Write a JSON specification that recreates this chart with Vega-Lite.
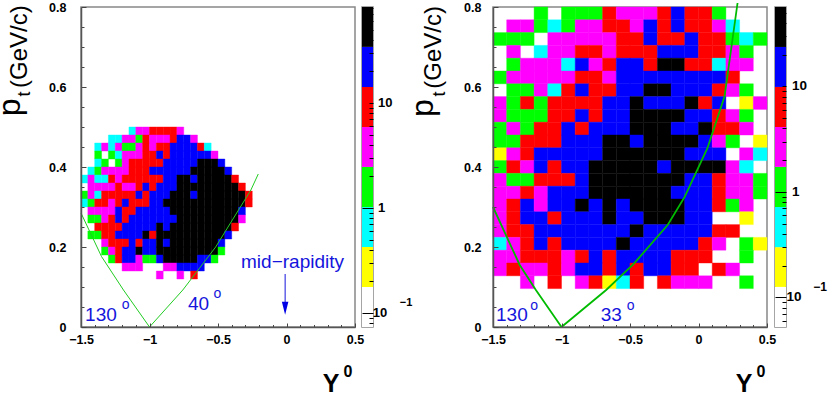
{"$schema":"https://vega.github.io/schema/vega-lite/v6.json","autosize":{"type":"none"},"padding":{"left":81,"top":7,"right":749,"bottom":386},"background":"white","bounds":"flush","spacing":412,"resolve":{"scale":{"color":"independent","stroke":"independent"}},"config":{"text":{"font":"Liberation Sans"},"axis":{"labelFont":"Liberation Sans","labelFontWeight":"bold"}},
"datasets":{"cells1":[
{"x":-1.15,"y":0.48,"n":0.65},{"x":-1.1,"y":0.48,"n":3.8},{"x":-1.05,"y":0.48,"n":3.8},{"x":-1,"y":0.48,"n":9},{"x":-0.95,"y":0.48,"n":9},{"x":-0.9,"y":0.48,"n":9},{"x":-0.85,"y":0.48,"n":9},{"x":-0.8,"y":0.48,"n":3.8},
{"x":-1.3,"y":0.46,"n":0.65},{"x":-1.25,"y":0.46,"n":0.65},{"x":-1.2,"y":0.46,"n":3.8},{"x":-1.15,"y":0.46,"n":3.8},{"x":-1.1,"y":0.46,"n":1.6},{"x":-1.05,"y":0.46,"n":9},{"x":-1,"y":0.46,"n":3.8},{"x":-0.95,"y":0.46,"n":3.8},{"x":-0.9,"y":0.46,"n":3.8},{"x":-0.85,"y":0.46,"n":9},{"x":-0.8,"y":0.46,"n":22},{"x":-0.75,"y":0.46,"n":22},{"x":-0.7,"y":0.46,"n":3.8},
{"x":-1.4,"y":0.44,"n":0.65},{"x":-1.35,"y":0.44,"n":3.8},{"x":-1.3,"y":0.44,"n":0.65},{"x":-1.25,"y":0.44,"n":3.8},{"x":-1.2,"y":0.44,"n":1.6},{"x":-1.15,"y":0.44,"n":1.6},{"x":-1.1,"y":0.44,"n":3.8},{"x":-1.05,"y":0.44,"n":9},{"x":-1,"y":0.44,"n":3.8},{"x":-0.95,"y":0.44,"n":9},{"x":-0.9,"y":0.44,"n":9},{"x":-0.85,"y":0.44,"n":22},{"x":-0.8,"y":0.44,"n":22},{"x":-0.75,"y":0.44,"n":22},{"x":-0.7,"y":0.44,"n":22},{"x":-0.65,"y":0.44,"n":9},{"x":-0.6,"y":0.44,"n":0.65},
{"x":-1.4,"y":0.42,"n":1.6},{"x":-1.3,"y":0.42,"n":1.6},{"x":-1.25,"y":0.42,"n":0.65},{"x":-1.2,"y":0.42,"n":3.8},{"x":-1.15,"y":0.42,"n":3.8},{"x":-1.1,"y":0.42,"n":3.8},{"x":-1.05,"y":0.42,"n":9},{"x":-1,"y":0.42,"n":9},{"x":-0.95,"y":0.42,"n":22},{"x":-0.9,"y":0.42,"n":9},{"x":-0.85,"y":0.42,"n":22},{"x":-0.8,"y":0.42,"n":22},{"x":-0.75,"y":0.42,"n":22},{"x":-0.7,"y":0.42,"n":22},{"x":-0.65,"y":0.42,"n":22},{"x":-0.6,"y":0.42,"n":22},{"x":-0.55,"y":0.42,"n":3.8},
{"x":-1.4,"y":0.4,"n":0.65},{"x":-1.35,"y":0.4,"n":1.6},{"x":-1.25,"y":0.4,"n":1.6},{"x":-1.2,"y":0.4,"n":3.8},{"x":-1.15,"y":0.4,"n":9},{"x":-1.1,"y":0.4,"n":9},{"x":-1.05,"y":0.4,"n":9},{"x":-1,"y":0.4,"n":9},{"x":-0.95,"y":0.4,"n":9},{"x":-0.9,"y":0.4,"n":22},{"x":-0.85,"y":0.4,"n":22},{"x":-0.8,"y":0.4,"n":22},{"x":-0.75,"y":0.4,"n":22},{"x":-0.7,"y":0.4,"n":22},{"x":-0.65,"y":0.4,"n":50},{"x":-0.6,"y":0.4,"n":50},{"x":-0.55,"y":0.4,"n":50},{"x":-0.5,"y":0.4,"n":22},
{"x":-1.45,"y":0.38,"n":0.65},{"x":-1.4,"y":0.38,"n":1.6},{"x":-1.35,"y":0.38,"n":3.8},{"x":-1.3,"y":0.38,"n":3.8},{"x":-1.25,"y":0.38,"n":3.8},{"x":-1.2,"y":0.38,"n":3.8},{"x":-1.15,"y":0.38,"n":9},{"x":-1.1,"y":0.38,"n":9},{"x":-1.05,"y":0.38,"n":9},{"x":-1,"y":0.38,"n":22},{"x":-0.95,"y":0.38,"n":22},{"x":-0.9,"y":0.38,"n":22},{"x":-0.85,"y":0.38,"n":22},{"x":-0.8,"y":0.38,"n":22},{"x":-0.75,"y":0.38,"n":22},{"x":-0.7,"y":0.38,"n":50},{"x":-0.65,"y":0.38,"n":50},{"x":-0.6,"y":0.38,"n":50},{"x":-0.55,"y":0.38,"n":50},{"x":-0.5,"y":0.38,"n":50},{"x":-0.45,"y":0.38,"n":22},
{"x":-1.5,"y":0.36,"n":0.65},{"x":-1.45,"y":0.36,"n":3.8},{"x":-1.4,"y":0.36,"n":0.65},{"x":-1.35,"y":0.36,"n":0.65},{"x":-1.3,"y":0.36,"n":9},{"x":-1.25,"y":0.36,"n":3.8},{"x":-1.2,"y":0.36,"n":9},{"x":-1.15,"y":0.36,"n":9},{"x":-1.1,"y":0.36,"n":9},{"x":-1.05,"y":0.36,"n":9},{"x":-1,"y":0.36,"n":9},{"x":-0.95,"y":0.36,"n":9},{"x":-0.9,"y":0.36,"n":22},{"x":-0.85,"y":0.36,"n":22},{"x":-0.8,"y":0.36,"n":50},{"x":-0.75,"y":0.36,"n":50},{"x":-0.7,"y":0.36,"n":22},{"x":-0.65,"y":0.36,"n":50},{"x":-0.6,"y":0.36,"n":50},{"x":-0.55,"y":0.36,"n":50},{"x":-0.5,"y":0.36,"n":50},{"x":-0.45,"y":0.36,"n":50},{"x":-0.4,"y":0.36,"n":9},
{"x":-1.45,"y":0.34,"n":3.8},{"x":-1.4,"y":0.34,"n":3.8},{"x":-1.35,"y":0.34,"n":3.8},{"x":-1.3,"y":0.34,"n":3.8},{"x":-1.25,"y":0.34,"n":9},{"x":-1.2,"y":0.34,"n":3.8},{"x":-1.15,"y":0.34,"n":3.8},{"x":-1.1,"y":0.34,"n":9},{"x":-1.05,"y":0.34,"n":22},{"x":-1,"y":0.34,"n":9},{"x":-0.95,"y":0.34,"n":22},{"x":-0.9,"y":0.34,"n":22},{"x":-0.85,"y":0.34,"n":22},{"x":-0.8,"y":0.34,"n":50},{"x":-0.75,"y":0.34,"n":50},{"x":-0.7,"y":0.34,"n":50},{"x":-0.65,"y":0.34,"n":50},{"x":-0.6,"y":0.34,"n":50},{"x":-0.55,"y":0.34,"n":50},{"x":-0.5,"y":0.34,"n":50},{"x":-0.45,"y":0.34,"n":50},{"x":-0.4,"y":0.34,"n":50},{"x":-0.35,"y":0.34,"n":9},
{"x":-1.5,"y":0.32,"n":1.6},{"x":-1.45,"y":0.32,"n":3.8},{"x":-1.4,"y":0.32,"n":0.65},{"x":-1.35,"y":0.32,"n":9},{"x":-1.3,"y":0.32,"n":9},{"x":-1.25,"y":0.32,"n":9},{"x":-1.2,"y":0.32,"n":9},{"x":-1.15,"y":0.32,"n":9},{"x":-1.1,"y":0.32,"n":22},{"x":-1.05,"y":0.32,"n":9},{"x":-1,"y":0.32,"n":22},{"x":-0.95,"y":0.32,"n":22},{"x":-0.9,"y":0.32,"n":22},{"x":-0.85,"y":0.32,"n":50},{"x":-0.8,"y":0.32,"n":50},{"x":-0.75,"y":0.32,"n":50},{"x":-0.7,"y":0.32,"n":22},{"x":-0.65,"y":0.32,"n":50},{"x":-0.6,"y":0.32,"n":50},{"x":-0.55,"y":0.32,"n":50},{"x":-0.5,"y":0.32,"n":50},{"x":-0.45,"y":0.32,"n":50},{"x":-0.4,"y":0.32,"n":50},{"x":-0.35,"y":0.32,"n":50},{"x":-0.3,"y":0.32,"n":9},
{"x":-1.5,"y":0.3,"n":0.65},{"x":-1.45,"y":0.3,"n":1.6},{"x":-1.4,"y":0.3,"n":9},{"x":-1.35,"y":0.3,"n":9},{"x":-1.3,"y":0.3,"n":3.8},{"x":-1.25,"y":0.3,"n":9},{"x":-1.2,"y":0.3,"n":22},{"x":-1.15,"y":0.3,"n":9},{"x":-1.1,"y":0.3,"n":9},{"x":-1.05,"y":0.3,"n":9},{"x":-1,"y":0.3,"n":22},{"x":-0.95,"y":0.3,"n":22},{"x":-0.9,"y":0.3,"n":50},{"x":-0.85,"y":0.3,"n":50},{"x":-0.8,"y":0.3,"n":50},{"x":-0.75,"y":0.3,"n":50},{"x":-0.7,"y":0.3,"n":50},{"x":-0.65,"y":0.3,"n":50},{"x":-0.6,"y":0.3,"n":50},{"x":-0.55,"y":0.3,"n":50},{"x":-0.5,"y":0.3,"n":50},{"x":-0.45,"y":0.3,"n":50},{"x":-0.4,"y":0.3,"n":50},{"x":-0.35,"y":0.3,"n":50},{"x":-0.3,"y":0.3,"n":9},
{"x":-1.45,"y":0.28,"n":3.8},{"x":-1.4,"y":0.28,"n":3.8},{"x":-1.35,"y":0.28,"n":3.8},{"x":-1.3,"y":0.28,"n":3.8},{"x":-1.25,"y":0.28,"n":22},{"x":-1.2,"y":0.28,"n":9},{"x":-1.15,"y":0.28,"n":9},{"x":-1.1,"y":0.28,"n":22},{"x":-1.05,"y":0.28,"n":22},{"x":-1,"y":0.28,"n":22},{"x":-0.95,"y":0.28,"n":22},{"x":-0.9,"y":0.28,"n":22},{"x":-0.85,"y":0.28,"n":50},{"x":-0.8,"y":0.28,"n":50},{"x":-0.75,"y":0.28,"n":50},{"x":-0.7,"y":0.28,"n":50},{"x":-0.65,"y":0.28,"n":50},{"x":-0.6,"y":0.28,"n":50},{"x":-0.55,"y":0.28,"n":50},{"x":-0.5,"y":0.28,"n":50},{"x":-0.45,"y":0.28,"n":50},{"x":-0.4,"y":0.28,"n":50},{"x":-0.35,"y":0.28,"n":22},
{"x":-1.45,"y":0.26,"n":1.6},{"x":-1.4,"y":0.26,"n":1.6},{"x":-1.35,"y":0.26,"n":3.8},{"x":-1.3,"y":0.26,"n":9},{"x":-1.25,"y":0.26,"n":22},{"x":-1.2,"y":0.26,"n":9},{"x":-1.15,"y":0.26,"n":22},{"x":-1.1,"y":0.26,"n":22},{"x":-1.05,"y":0.26,"n":22},{"x":-1,"y":0.26,"n":22},{"x":-0.95,"y":0.26,"n":22},{"x":-0.9,"y":0.26,"n":22},{"x":-0.85,"y":0.26,"n":22},{"x":-0.8,"y":0.26,"n":50},{"x":-0.75,"y":0.26,"n":50},{"x":-0.7,"y":0.26,"n":50},{"x":-0.65,"y":0.26,"n":50},{"x":-0.6,"y":0.26,"n":50},{"x":-0.55,"y":0.26,"n":50},{"x":-0.5,"y":0.26,"n":50},{"x":-0.45,"y":0.26,"n":50},{"x":-0.4,"y":0.26,"n":50},{"x":-0.35,"y":0.26,"n":3.8},
{"x":-1.4,"y":0.24,"n":9},{"x":-1.35,"y":0.24,"n":9},{"x":-1.3,"y":0.24,"n":9},{"x":-1.25,"y":0.24,"n":9},{"x":-1.2,"y":0.24,"n":22},{"x":-1.15,"y":0.24,"n":22},{"x":-1.1,"y":0.24,"n":22},{"x":-1.05,"y":0.24,"n":22},{"x":-1,"y":0.24,"n":22},{"x":-0.95,"y":0.24,"n":50},{"x":-0.9,"y":0.24,"n":22},{"x":-0.85,"y":0.24,"n":50},{"x":-0.8,"y":0.24,"n":50},{"x":-0.75,"y":0.24,"n":50},{"x":-0.7,"y":0.24,"n":50},{"x":-0.65,"y":0.24,"n":50},{"x":-0.6,"y":0.24,"n":50},{"x":-0.55,"y":0.24,"n":50},{"x":-0.5,"y":0.24,"n":50},{"x":-0.45,"y":0.24,"n":50},{"x":-0.4,"y":0.24,"n":9},
{"x":-1.45,"y":0.22,"n":1.6},{"x":-1.4,"y":0.22,"n":1.6},{"x":-1.35,"y":0.22,"n":9},{"x":-1.3,"y":0.22,"n":9},{"x":-1.25,"y":0.22,"n":22},{"x":-1.2,"y":0.22,"n":22},{"x":-1.15,"y":0.22,"n":22},{"x":-1.1,"y":0.22,"n":22},{"x":-1.05,"y":0.22,"n":50},{"x":-1,"y":0.22,"n":9},{"x":-0.95,"y":0.22,"n":50},{"x":-0.9,"y":0.22,"n":50},{"x":-0.85,"y":0.22,"n":50},{"x":-0.8,"y":0.22,"n":50},{"x":-0.75,"y":0.22,"n":50},{"x":-0.7,"y":0.22,"n":50},{"x":-0.65,"y":0.22,"n":50},{"x":-0.6,"y":0.22,"n":50},{"x":-0.55,"y":0.22,"n":50},{"x":-0.5,"y":0.22,"n":50},{"x":-0.45,"y":0.22,"n":22},
{"x":-1.35,"y":0.2,"n":3.8},{"x":-1.3,"y":0.2,"n":9},{"x":-1.25,"y":0.2,"n":9},{"x":-1.2,"y":0.2,"n":9},{"x":-1.15,"y":0.2,"n":22},{"x":-1.1,"y":0.2,"n":9},{"x":-1.05,"y":0.2,"n":22},{"x":-1,"y":0.2,"n":22},{"x":-0.95,"y":0.2,"n":50},{"x":-0.9,"y":0.2,"n":22},{"x":-0.85,"y":0.2,"n":50},{"x":-0.8,"y":0.2,"n":50},{"x":-0.75,"y":0.2,"n":50},{"x":-0.7,"y":0.2,"n":50},{"x":-0.65,"y":0.2,"n":50},{"x":-0.6,"y":0.2,"n":50},{"x":-0.55,"y":0.2,"n":50},{"x":-0.5,"y":0.2,"n":22},
{"x":-1.35,"y":0.18,"n":1.6},{"x":-1.3,"y":0.18,"n":3.8},{"x":-1.25,"y":0.18,"n":9},{"x":-1.2,"y":0.18,"n":22},{"x":-1.15,"y":0.18,"n":22},{"x":-1.1,"y":0.18,"n":50},{"x":-1.05,"y":0.18,"n":22},{"x":-1,"y":0.18,"n":22},{"x":-0.95,"y":0.18,"n":50},{"x":-0.9,"y":0.18,"n":50},{"x":-0.85,"y":0.18,"n":50},{"x":-0.8,"y":0.18,"n":50},{"x":-0.75,"y":0.18,"n":50},{"x":-0.7,"y":0.18,"n":50},{"x":-0.65,"y":0.18,"n":50},{"x":-0.6,"y":0.18,"n":50},{"x":-0.55,"y":0.18,"n":50},{"x":-0.5,"y":0.18,"n":1.6},
{"x":-1.3,"y":0.16,"n":1.6},{"x":-1.25,"y":0.16,"n":9},{"x":-1.2,"y":0.16,"n":22},{"x":-1.15,"y":0.16,"n":22},{"x":-1.1,"y":0.16,"n":3.8},{"x":-1.05,"y":0.16,"n":1.6},{"x":-1,"y":0.16,"n":1.6},{"x":-0.95,"y":0.16,"n":22},{"x":-0.9,"y":0.16,"n":50},{"x":-0.85,"y":0.16,"n":50},{"x":-0.8,"y":0.16,"n":50},{"x":-0.75,"y":0.16,"n":50},{"x":-0.7,"y":0.16,"n":50},{"x":-0.65,"y":0.16,"n":22},{"x":-0.6,"y":0.16,"n":22},{"x":-0.55,"y":0.16,"n":1.6},
{"x":-1.2,"y":0.14,"n":3.8},{"x":-1.15,"y":0.14,"n":3.8},{"x":-1.1,"y":0.14,"n":3.8},{"x":-0.9,"y":0.14,"n":3.8},{"x":-0.85,"y":0.14,"n":3.8},{"x":-0.8,"y":0.14,"n":22},{"x":-0.75,"y":0.14,"n":22},{"x":-0.7,"y":0.14,"n":22},{"x":-0.65,"y":0.14,"n":22},
{"x":-0.95,"y":0.12,"n":3.8},{"x":-0.8,"y":0.12,"n":3.8},{"x":-0.7,"y":0.12,"n":9}
],"cells2":[
{"x":-1.2,"y":0.768,"n":1.1},{"x":-1,"y":0.768,"n":1.1},{"x":-0.9,"y":0.768,"n":1.1},{"x":-0.8,"y":0.768,"n":1.1},{"x":-0.7,"y":0.768,"n":6.4},{"x":-0.6,"y":0.768,"n":2.7},{"x":-0.5,"y":0.768,"n":2.7},{"x":-0.4,"y":0.768,"n":2.7},{"x":-0.3,"y":0.768,"n":6.4},{"x":-0.2,"y":0.768,"n":15},{"x":-0.1,"y":0.768,"n":6.4},{"x":0,"y":0.768,"n":6.4},{"x":0.1,"y":0.768,"n":1.1},
{"x":-1.4,"y":0.736,"n":2.7},{"x":-1.3,"y":0.736,"n":2.7},{"x":-1.2,"y":0.736,"n":1.1},{"x":-1.1,"y":0.736,"n":0.46},{"x":-1,"y":0.736,"n":1.1},{"x":-0.9,"y":0.736,"n":2.7},{"x":-0.8,"y":0.736,"n":2.7},{"x":-0.7,"y":0.736,"n":6.4},{"x":-0.6,"y":0.736,"n":6.4},{"x":-0.5,"y":0.736,"n":2.7},{"x":-0.4,"y":0.736,"n":15},{"x":-0.3,"y":0.736,"n":6.4},{"x":-0.2,"y":0.736,"n":15},{"x":-0.1,"y":0.736,"n":6.4},{"x":0,"y":0.736,"n":6.4},{"x":0.1,"y":0.736,"n":2.7},{"x":0.2,"y":0.736,"n":0.46},
{"x":-1.5,"y":0.704,"n":1.1},{"x":-1.4,"y":0.704,"n":1.1},{"x":-1.3,"y":0.704,"n":1.1},{"x":-1.1,"y":0.704,"n":2.7},{"x":-1,"y":0.704,"n":2.7},{"x":-0.9,"y":0.704,"n":2.7},{"x":-0.8,"y":0.704,"n":2.7},{"x":-0.7,"y":0.704,"n":2.7},{"x":-0.6,"y":0.704,"n":6.4},{"x":-0.5,"y":0.704,"n":6.4},{"x":-0.4,"y":0.704,"n":15},{"x":-0.3,"y":0.704,"n":6.4},{"x":-0.2,"y":0.704,"n":6.4},{"x":-0.1,"y":0.704,"n":15},{"x":0,"y":0.704,"n":6.4},{"x":0.1,"y":0.704,"n":6.4},{"x":0.2,"y":0.704,"n":1.1},{"x":0.3,"y":0.704,"n":0.46},{"x":0.4,"y":0.704,"n":1.1},
{"x":-1.4,"y":0.672,"n":2.7},{"x":-1.2,"y":0.672,"n":0.46},{"x":-1.1,"y":0.672,"n":2.7},{"x":-1,"y":0.672,"n":2.7},{"x":-0.9,"y":0.672,"n":6.4},{"x":-0.8,"y":0.672,"n":6.4},{"x":-0.7,"y":0.672,"n":2.7},{"x":-0.6,"y":0.672,"n":6.4},{"x":-0.5,"y":0.672,"n":6.4},{"x":-0.4,"y":0.672,"n":6.4},{"x":-0.3,"y":0.672,"n":15},{"x":-0.2,"y":0.672,"n":15},{"x":-0.1,"y":0.672,"n":15},{"x":0,"y":0.672,"n":6.4},{"x":0.1,"y":0.672,"n":6.4},{"x":0.2,"y":0.672,"n":2.7},{"x":0.3,"y":0.672,"n":1.1},
{"x":-1.4,"y":0.64,"n":1.1},{"x":-1.3,"y":0.64,"n":2.7},{"x":-1.2,"y":0.64,"n":2.7},{"x":-1.1,"y":0.64,"n":2.7},{"x":-1,"y":0.64,"n":0.46},{"x":-0.9,"y":0.64,"n":15},{"x":-0.8,"y":0.64,"n":2.7},{"x":-0.7,"y":0.64,"n":6.4},{"x":-0.6,"y":0.64,"n":15},{"x":-0.5,"y":0.64,"n":15},{"x":-0.4,"y":0.64,"n":6.4},{"x":-0.3,"y":0.64,"n":35},{"x":-0.2,"y":0.64,"n":35},{"x":-0.1,"y":0.64,"n":6.4},{"x":0,"y":0.64,"n":6.4},{"x":0.1,"y":0.64,"n":0.46},{"x":0.2,"y":0.64,"n":2.7},{"x":0.3,"y":0.64,"n":2.7},
{"x":-1.5,"y":0.608,"n":1.1},{"x":-1.4,"y":0.608,"n":2.7},{"x":-1.3,"y":0.608,"n":2.7},{"x":-1.2,"y":0.608,"n":2.7},{"x":-1.1,"y":0.608,"n":2.7},{"x":-1,"y":0.608,"n":2.7},{"x":-0.9,"y":0.608,"n":6.4},{"x":-0.8,"y":0.608,"n":6.4},{"x":-0.7,"y":0.608,"n":2.7},{"x":-0.6,"y":0.608,"n":15},{"x":-0.5,"y":0.608,"n":15},{"x":-0.4,"y":0.608,"n":15},{"x":-0.3,"y":0.608,"n":15},{"x":-0.2,"y":0.608,"n":15},{"x":-0.1,"y":0.608,"n":15},{"x":0,"y":0.608,"n":15},{"x":0.1,"y":0.608,"n":15},{"x":0.2,"y":0.608,"n":6.4},
{"x":-1.4,"y":0.576,"n":1.1},{"x":-1.3,"y":0.576,"n":1.1},{"x":-1.2,"y":0.576,"n":2.7},{"x":-1.1,"y":0.576,"n":0.46},{"x":-1,"y":0.576,"n":6.4},{"x":-0.9,"y":0.576,"n":15},{"x":-0.8,"y":0.576,"n":6.4},{"x":-0.7,"y":0.576,"n":6.4},{"x":-0.6,"y":0.576,"n":15},{"x":-0.5,"y":0.576,"n":15},{"x":-0.4,"y":0.576,"n":35},{"x":-0.3,"y":0.576,"n":35},{"x":-0.2,"y":0.576,"n":15},{"x":-0.1,"y":0.576,"n":15},{"x":0,"y":0.576,"n":15},{"x":0.1,"y":0.576,"n":6.4},{"x":0.2,"y":0.576,"n":2.7},{"x":0.3,"y":0.576,"n":1.1},
{"x":-1.5,"y":0.544,"n":2.7},{"x":-1.4,"y":0.544,"n":1.1},{"x":-1.3,"y":0.544,"n":6.4},{"x":-1.2,"y":0.544,"n":1.1},{"x":-1.1,"y":0.544,"n":6.4},{"x":-1,"y":0.544,"n":6.4},{"x":-0.9,"y":0.544,"n":6.4},{"x":-0.8,"y":0.544,"n":6.4},{"x":-0.7,"y":0.544,"n":15},{"x":-0.6,"y":0.544,"n":15},{"x":-0.5,"y":0.544,"n":35},{"x":-0.4,"y":0.544,"n":15},{"x":-0.3,"y":0.544,"n":15},{"x":-0.2,"y":0.544,"n":15},{"x":-0.1,"y":0.544,"n":35},{"x":0,"y":0.544,"n":6.4},{"x":0.1,"y":0.544,"n":15},{"x":0.3,"y":0.544,"n":0.2},{"x":0.4,"y":0.544,"n":2.7},
{"x":-1.5,"y":0.512,"n":2.7},{"x":-1.4,"y":0.512,"n":1.1},{"x":-1.3,"y":0.512,"n":1.1},{"x":-1.2,"y":0.512,"n":1.1},{"x":-1.1,"y":0.512,"n":6.4},{"x":-1,"y":0.512,"n":6.4},{"x":-0.9,"y":0.512,"n":15},{"x":-0.8,"y":0.512,"n":6.4},{"x":-0.7,"y":0.512,"n":15},{"x":-0.6,"y":0.512,"n":15},{"x":-0.5,"y":0.512,"n":35},{"x":-0.4,"y":0.512,"n":35},{"x":-0.3,"y":0.512,"n":35},{"x":-0.2,"y":0.512,"n":35},{"x":-0.1,"y":0.512,"n":15},{"x":0,"y":0.512,"n":15},{"x":0.1,"y":0.512,"n":6.4},{"x":0.2,"y":0.512,"n":2.7},{"x":0.3,"y":0.512,"n":1.1},
{"x":-1.5,"y":0.48,"n":1.1},{"x":-1.4,"y":0.48,"n":2.7},{"x":-1.3,"y":0.48,"n":1.1},{"x":-1.2,"y":0.48,"n":6.4},{"x":-1.1,"y":0.48,"n":6.4},{"x":-1,"y":0.48,"n":15},{"x":-0.9,"y":0.48,"n":6.4},{"x":-0.8,"y":0.48,"n":15},{"x":-0.7,"y":0.48,"n":15},{"x":-0.6,"y":0.48,"n":15},{"x":-0.5,"y":0.48,"n":35},{"x":-0.4,"y":0.48,"n":35},{"x":-0.3,"y":0.48,"n":35},{"x":-0.2,"y":0.48,"n":15},{"x":-0.1,"y":0.48,"n":15},{"x":0,"y":0.48,"n":35},{"x":0.1,"y":0.48,"n":6.4},{"x":0.2,"y":0.48,"n":6.4},{"x":0.3,"y":0.48,"n":2.7},
{"x":-1.5,"y":0.448,"n":1.1},{"x":-1.4,"y":0.448,"n":1.1},{"x":-1.3,"y":0.448,"n":6.4},{"x":-1.2,"y":0.448,"n":6.4},{"x":-1.1,"y":0.448,"n":6.4},{"x":-1,"y":0.448,"n":15},{"x":-0.9,"y":0.448,"n":15},{"x":-0.8,"y":0.448,"n":15},{"x":-0.7,"y":0.448,"n":35},{"x":-0.6,"y":0.448,"n":35},{"x":-0.5,"y":0.448,"n":15},{"x":-0.4,"y":0.448,"n":35},{"x":-0.3,"y":0.448,"n":35},{"x":-0.2,"y":0.448,"n":35},{"x":-0.1,"y":0.448,"n":35},{"x":0,"y":0.448,"n":15},{"x":0.1,"y":0.448,"n":2.7},{"x":0.2,"y":0.448,"n":1.1},{"x":0.4,"y":0.448,"n":0.2},
{"x":-1.5,"y":0.416,"n":0.2},{"x":-1.4,"y":0.416,"n":2.7},{"x":-1.3,"y":0.416,"n":6.4},{"x":-1.2,"y":0.416,"n":15},{"x":-1.1,"y":0.416,"n":15},{"x":-1,"y":0.416,"n":15},{"x":-0.9,"y":0.416,"n":15},{"x":-0.8,"y":0.416,"n":15},{"x":-0.7,"y":0.416,"n":35},{"x":-0.6,"y":0.416,"n":35},{"x":-0.5,"y":0.416,"n":35},{"x":-0.4,"y":0.416,"n":35},{"x":-0.3,"y":0.416,"n":35},{"x":-0.2,"y":0.416,"n":35},{"x":-0.1,"y":0.416,"n":15},{"x":0,"y":0.416,"n":15},{"x":0.1,"y":0.416,"n":15},{"x":0.3,"y":0.416,"n":2.7},{"x":0.4,"y":0.416,"n":0.46},
{"x":-1.5,"y":0.384,"n":1.1},{"x":-1.4,"y":0.384,"n":6.4},{"x":-1.3,"y":0.384,"n":2.7},{"x":-1.2,"y":0.384,"n":15},{"x":-1.1,"y":0.384,"n":6.4},{"x":-1,"y":0.384,"n":15},{"x":-0.9,"y":0.384,"n":15},{"x":-0.8,"y":0.384,"n":35},{"x":-0.7,"y":0.384,"n":35},{"x":-0.6,"y":0.384,"n":35},{"x":-0.5,"y":0.384,"n":35},{"x":-0.4,"y":0.384,"n":35},{"x":-0.3,"y":0.384,"n":15},{"x":-0.2,"y":0.384,"n":35},{"x":-0.1,"y":0.384,"n":35},{"x":0,"y":0.384,"n":35},{"x":0.1,"y":0.384,"n":35},{"x":0.2,"y":0.384,"n":2.7},{"x":0.3,"y":0.384,"n":0.46},
{"x":-1.5,"y":0.352,"n":2.7},{"x":-1.4,"y":0.352,"n":1.1},{"x":-1.3,"y":0.352,"n":1.1},{"x":-1.2,"y":0.352,"n":6.4},{"x":-1.1,"y":0.352,"n":6.4},{"x":-1,"y":0.352,"n":6.4},{"x":-0.9,"y":0.352,"n":15},{"x":-0.8,"y":0.352,"n":35},{"x":-0.7,"y":0.352,"n":35},{"x":-0.6,"y":0.352,"n":35},{"x":-0.5,"y":0.352,"n":35},{"x":-0.4,"y":0.352,"n":35},{"x":-0.3,"y":0.352,"n":35},{"x":-0.2,"y":0.352,"n":35},{"x":-0.1,"y":0.352,"n":15},{"x":0,"y":0.352,"n":15},{"x":0.1,"y":0.352,"n":6.4},{"x":0.2,"y":0.352,"n":2.7},{"x":0.3,"y":0.352,"n":2.7},{"x":0.4,"y":0.352,"n":1.1},
{"x":-1.5,"y":0.32,"n":2.7},{"x":-1.4,"y":0.32,"n":2.7},{"x":-1.3,"y":0.32,"n":6.4},{"x":-1.2,"y":0.32,"n":2.7},{"x":-1.1,"y":0.32,"n":15},{"x":-1,"y":0.32,"n":15},{"x":-0.9,"y":0.32,"n":15},{"x":-0.8,"y":0.32,"n":35},{"x":-0.7,"y":0.32,"n":35},{"x":-0.6,"y":0.32,"n":35},{"x":-0.5,"y":0.32,"n":35},{"x":-0.4,"y":0.32,"n":35},{"x":-0.3,"y":0.32,"n":35},{"x":-0.2,"y":0.32,"n":15},{"x":-0.1,"y":0.32,"n":15},{"x":0,"y":0.32,"n":15},{"x":0.1,"y":0.32,"n":6.4},{"x":0.2,"y":0.32,"n":2.7},{"x":0.3,"y":0.32,"n":2.7},{"x":0.4,"y":0.32,"n":1.1},
{"x":-1.5,"y":0.288,"n":2.7},{"x":-1.4,"y":0.288,"n":6.4},{"x":-1.3,"y":0.288,"n":15},{"x":-1.2,"y":0.288,"n":2.7},{"x":-1.1,"y":0.288,"n":15},{"x":-1,"y":0.288,"n":15},{"x":-0.9,"y":0.288,"n":35},{"x":-0.8,"y":0.288,"n":15},{"x":-0.7,"y":0.288,"n":35},{"x":-0.6,"y":0.288,"n":15},{"x":-0.5,"y":0.288,"n":35},{"x":-0.4,"y":0.288,"n":35},{"x":-0.3,"y":0.288,"n":35},{"x":-0.2,"y":0.288,"n":35},{"x":-0.1,"y":0.288,"n":15},{"x":0,"y":0.288,"n":15},{"x":0.1,"y":0.288,"n":6.4},{"x":0.2,"y":0.288,"n":1.1},{"x":0.3,"y":0.288,"n":2.7},
{"x":-1.5,"y":0.256,"n":2.7},{"x":-1.4,"y":0.256,"n":6.4},{"x":-1.3,"y":0.256,"n":15},{"x":-1.2,"y":0.256,"n":15},{"x":-1.1,"y":0.256,"n":6.4},{"x":-1,"y":0.256,"n":15},{"x":-0.9,"y":0.256,"n":15},{"x":-0.8,"y":0.256,"n":15},{"x":-0.7,"y":0.256,"n":35},{"x":-0.6,"y":0.256,"n":15},{"x":-0.5,"y":0.256,"n":15},{"x":-0.4,"y":0.256,"n":35},{"x":-0.3,"y":0.256,"n":35},{"x":-0.2,"y":0.256,"n":35},{"x":-0.1,"y":0.256,"n":15},{"x":0,"y":0.256,"n":15},{"x":0.3,"y":0.256,"n":0.2},
{"x":-1.5,"y":0.224,"n":2.7},{"x":-1.4,"y":0.224,"n":6.4},{"x":-1.3,"y":0.224,"n":6.4},{"x":-1.2,"y":0.224,"n":15},{"x":-1.1,"y":0.224,"n":15},{"x":-1,"y":0.224,"n":15},{"x":-0.9,"y":0.224,"n":15},{"x":-0.8,"y":0.224,"n":15},{"x":-0.7,"y":0.224,"n":15},{"x":-0.6,"y":0.224,"n":15},{"x":-0.5,"y":0.224,"n":35},{"x":-0.4,"y":0.224,"n":15},{"x":-0.3,"y":0.224,"n":15},{"x":-0.2,"y":0.224,"n":15},{"x":-0.1,"y":0.224,"n":15},{"x":0,"y":0.224,"n":15},{"x":0.1,"y":0.224,"n":6.4},{"x":0.2,"y":0.224,"n":6.4},
{"x":-1.5,"y":0.192,"n":0.46},{"x":-1.4,"y":0.192,"n":2.7},{"x":-1.3,"y":0.192,"n":6.4},{"x":-1.2,"y":0.192,"n":15},{"x":-1.1,"y":0.192,"n":6.4},{"x":-1,"y":0.192,"n":15},{"x":-0.9,"y":0.192,"n":15},{"x":-0.8,"y":0.192,"n":15},{"x":-0.7,"y":0.192,"n":15},{"x":-0.6,"y":0.192,"n":35},{"x":-0.5,"y":0.192,"n":15},{"x":-0.4,"y":0.192,"n":15},{"x":-0.3,"y":0.192,"n":15},{"x":-0.2,"y":0.192,"n":15},{"x":-0.1,"y":0.192,"n":15},{"x":0,"y":0.192,"n":6.4},{"x":0.1,"y":0.192,"n":2.7},{"x":0.3,"y":0.192,"n":1.1},{"x":0.4,"y":0.192,"n":0.2},
{"x":-1.5,"y":0.16,"n":2.7},{"x":-1.4,"y":0.16,"n":2.7},{"x":-1.3,"y":0.16,"n":6.4},{"x":-1.2,"y":0.16,"n":6.4},{"x":-1.1,"y":0.16,"n":6.4},{"x":-1,"y":0.16,"n":2.7},{"x":-0.9,"y":0.16,"n":6.4},{"x":-0.8,"y":0.16,"n":15},{"x":-0.7,"y":0.16,"n":6.4},{"x":-0.6,"y":0.16,"n":15},{"x":-0.5,"y":0.16,"n":15},{"x":-0.4,"y":0.16,"n":15},{"x":-0.3,"y":0.16,"n":15},{"x":-0.2,"y":0.16,"n":6.4},{"x":-0.1,"y":0.16,"n":6.4},{"x":0,"y":0.16,"n":6.4},{"x":0.3,"y":0.16,"n":1.1},
{"x":-1.5,"y":0.128,"n":2.7},{"x":-1.4,"y":0.128,"n":6.4},{"x":-1.3,"y":0.128,"n":2.7},{"x":-1.2,"y":0.128,"n":2.7},{"x":-1.1,"y":0.128,"n":6.4},{"x":-1,"y":0.128,"n":2.7},{"x":-0.9,"y":0.128,"n":15},{"x":-0.8,"y":0.128,"n":15},{"x":-0.7,"y":0.128,"n":6.4},{"x":-0.6,"y":0.128,"n":15},{"x":-0.5,"y":0.128,"n":6.4},{"x":-0.4,"y":0.128,"n":15},{"x":-0.3,"y":0.128,"n":15},{"x":-0.2,"y":0.128,"n":6.4},{"x":-0.1,"y":0.128,"n":6.4},{"x":0.1,"y":0.128,"n":6.4},{"x":0.2,"y":0.128,"n":2.7},
{"x":-1.3,"y":0.096,"n":2.7},{"x":-1.1,"y":0.096,"n":6.4},{"x":-0.9,"y":0.096,"n":2.7},{"x":-0.8,"y":0.096,"n":6.4},{"x":-0.7,"y":0.096,"n":0.2},{"x":-0.6,"y":0.096,"n":0.46},{"x":-0.5,"y":0.096,"n":6.4},{"x":-0.3,"y":0.096,"n":6.4},{"x":-0.2,"y":0.096,"n":2.7},{"x":-0.1,"y":0.096,"n":2.7},{"x":0,"y":0.096,"n":2.7},{"x":0.3,"y":0.096,"n":1.1}
]},
"hconcat":[{"bounds":"flush","spacing":7,"resolve":{"scale":{"color":"independent","stroke":"independent"}},"hconcat":[
{"width":274,"height":320,"view":{"stroke":"#888","strokeWidth":1.5},"layer":[
{"data":{"name":"cells1"},"mark":{"type":"rect","strokeWidth":0.4},"encoding":{"x":{"field":"x","type":"ordinal","axis":null,"scale":{"domain":[-1.5,-1.45,-1.4,-1.35,-1.3,-1.25,-1.2,-1.15,-1.1,-1.05,-1,-0.95,-0.9,-0.85,-0.8,-0.75,-0.7,-0.65,-0.6,-0.55,-0.5,-0.45,-0.4,-0.35,-0.3,-0.25,-0.2,-0.15,-0.1,-0.05,0,0.05,0.1,0.15,0.2,0.25,0.3,0.35,0.4,0.45],"paddingInner":0,"paddingOuter":0,"round":false}},"y":{"field":"y","type":"ordinal","axis":null,"scale":{"domain":[0.78,0.76,0.74,0.72,0.7,0.68,0.66,0.64,0.62,0.6,0.58,0.56,0.54,0.52,0.5,0.48,0.46,0.44,0.42,0.4,0.38,0.36,0.34,0.32,0.3,0.28,0.26,0.24,0.22,0.2,0.18,0.16,0.14,0.12,0.1,0.08,0.06,0.04,0.02,0],"paddingInner":0,"paddingOuter":0,"round":false}},"color":{"field":"n","type":"quantitative","legend":null,"scale":{"type":"threshold","domain":[0.177,0.425,1.02,2.46,5.9,14.2,34.2],"range":["#ffffff","#ffff00","#00ffff","#00ff00","#ff00ff","#ff0000","#0000ff","#000000"]}},"stroke":{"field":"n","type":"quantitative","legend":null,"scale":{"type":"threshold","domain":[0.177,0.425,1.02,2.46,5.9,14.2,34.2],"range":["#ffffff","#ffff00","#00ffff","#00ff00","#ff00ff","#ff0000","#0000ff","#000000"]}}}},
{"encoding":{"x":{"field":"x","type":"quantitative","title":null,"scale":{"domain":[-1.5,0.5],"nice":false,"zero":false},"axis":{"zindex":1,"values":[-1.5,-1.4,-1.3,-1.2,-1.1,-1,-0.9,-0.8,-0.7,-0.6,-0.5,-0.4,-0.3,-0.2,-0.1,0,0.1,0.2,0.3,0.4,0.5],"grid":false,"labelFontSize":12.5,"labelColor":"#000","labelPadding":10,"labelFlush":false,"labelOverlap":false,"domainColor":"#555","domainWidth":1.5,"tickColor":"#444","tickSize":{"condition":{"test":"abs(datum.value*2-round(datum.value*2))<0.001","value":-4},"value":-2.5},"labelExpr":"abs(datum.value*2-round(datum.value*2))<0.001 ? replace(format(datum.value,'~g'),'-','–') : ''"}},"y":{"field":"y","type":"quantitative","title":null,"scale":{"domain":[0,0.8],"nice":false,"zero":false},"axis":{"zindex":1,"values":[0,0.05,0.1,0.15,0.2,0.25,0.3,0.35,0.4,0.45,0.5,0.55,0.6,0.65,0.7,0.75,0.8],"grid":false,"labelFontSize":12.5,"labelColor":"#000","labelPadding":20,"labelFlush":false,"labelOverlap":false,"domainColor":"#555","domainWidth":1.5,"tickColor":"#444","tickSize":{"condition":{"test":"abs(datum.value*5-round(datum.value*5))<0.001","value":-5},"value":-3},"labelExpr":"abs(datum.value*5-round(datum.value*5))<0.001 ? (datum.value==0?'0':format(datum.value,'.1f')) : ''"}}},"layer":[
{"data":{"values":[{"x":-1.5,"y":0.285},{"x":-1.35,"y":0.176},{"x":-1.19,"y":0.0925},{"x":-1,"y":0}]},"mark":{"type":"line","color":"#22cc22","strokeWidth":1}},
{"data":{"values":[{"x":-1,"y":0},{"x":-0.757,"y":0.0925},{"x":-0.517,"y":0.2},{"x":-0.26,"y":0.3425},{"x":-0.206,"y":0.3825}]},"mark":{"type":"line","color":"#22cc22","strokeWidth":1}},
{"data":{"values":[{"x":-1.47,"y":0.015,"label":"130"},{"x":-0.719,"y":0.0425,"label":"40"}]},"mark":{"type":"text","align":"left","baseline":"alphabetic","fontSize":19,"color":"#1414dc"},"encoding":{"text":{"field":"label"}}},
{"data":{"values":[{"x":-1.175,"y":0.044,"label":"o"},{"x":-0.504,"y":0.072,"label":"o"}]},"mark":{"type":"text","align":"center","baseline":"alphabetic","fontSize":14,"color":"#1414dc"},"encoding":{"text":{"field":"label"}}},
{"data":{"values":[{"x":0.044,"y":0.1475,"label":"mid−rapidity"}]},"mark":{"type":"text","align":"center","baseline":"alphabetic","fontSize":19,"color":"#1414dc"},"encoding":{"text":{"field":"label"}}},
{"data":{"values":[{"x":-0.01,"y":0.1325,"y2":0.04}]},"mark":{"type":"rule","color":"#1414dc","strokeWidth":1},"encoding":{"y2":{"field":"y2"}}},
{"data":{"values":[{"x":-0.01,"y":0.047}]},"mark":{"type":"point","shape":"M-0.5,-1L0.5,-1L0,1Z","size":169,"filled":true,"opacity":1,"color":"#0000e6"}},
{"data":{"values":[{"x":-1.895,"y":0.701,"label":"(GeV/c)"}]},"mark":{"type":"text","angle":270,"align":"center","baseline":"alphabetic","fontSize":24},"encoding":{"text":{"field":"label"}}},
{"data":{"values":[{"x":-1.942,"y":0.549,"label":"p"}]},"mark":{"type":"text","angle":270,"align":"center","baseline":"alphabetic","fontSize":32},"encoding":{"text":{"field":"label"}}},
{"data":{"values":[{"x":-1.872,"y":0.5825,"label":"t"}]},"mark":{"type":"text","angle":270,"align":"center","baseline":"alphabetic","fontSize":18},"encoding":{"text":{"field":"label"}}},
{"data":{"values":[{"x":0.325,"y":-0.1625,"label":"Y"}]},"mark":{"type":"text","align":"center","baseline":"alphabetic","fontSize":25,"fontWeight":"bold"},"encoding":{"text":{"field":"label"}}},
{"data":{"values":[{"x":0.449,"y":-0.125,"label":"0"}]},"mark":{"type":"text","align":"center","baseline":"alphabetic","fontSize":16,"fontWeight":"bold"},"encoding":{"text":{"field":"label"}}}
]}
],"resolve":{"scale":{"x":"independent","y":"independent"}}},
{"width":11,"height":320,"view":{"stroke":"#888","strokeWidth":1.5},"encoding":{"y":{"field":"lo","type":"quantitative","title":null,"scale":{"type":"log","domain":[0.0736,82],"nice":false},"axis":{"zindex":1,"orient":"right","values":[0.08,0.09,0.1,0.2,0.3,0.4,0.5,0.6,0.7,0.8,0.9,1,2,3,4,5,6,7,8,9,10,20,30,40,50,60,70,80],"grid":false,"domain":false,"labels":false,"tickColor":"#000","tickSize":{"condition":{"test":"datum.value==1||abs(datum.value-0.1)<0.001","value":-11},"value":-4}}},"x":{"datum":0,"type":"quantitative","title":null,"axis":null,"scale":{"domain":[0,1],"nice":false,"zero":false}}},"layer":[
{"data":{"values":[{"lo":0.0736,"hi":0.177,"n":0.1},{"lo":0.177,"hi":0.425,"n":0.27},{"lo":0.425,"hi":1.02,"n":0.65},{"lo":1.02,"hi":2.46,"n":1.6},{"lo":2.46,"hi":5.9,"n":3.8},{"lo":5.9,"hi":14.2,"n":9},{"lo":14.2,"hi":34.2,"n":22},{"lo":34.2,"hi":82,"n":50}]},"mark":{"type":"rect"},"encoding":{"x2":{"datum":1},"y2":{"field":"hi"},"color":{"field":"n","type":"quantitative","legend":null,"scale":{"type":"threshold","domain":[0.177,0.425,1.02,2.46,5.9,14.2,34.2],"range":["#ffffff","#ffff00","#00ffff","#00ff00","#ff00ff","#ff0000","#0000ff","#000000"]}}}},
{"data":{"values":[{"lo":10,"label":"10"},{"lo":1,"label":"1"}]},"mark":{"type":"text","align":"left","baseline":"middle","fontSize":13,"fontWeight":"bold"},"encoding":{"x":{"datum":1.45},"text":{"field":"label"}}},
{"data":{"values":[{"lo":0.1,"label":"10"}]},"mark":{"type":"text","align":"center","baseline":"middle","fontSize":13,"fontWeight":"bold"},"encoding":{"x":{"datum":1.64},"text":{"field":"label"}}},
{"data":{"values":[{"lo":0.117,"label":"−1"}]},"mark":{"type":"text","align":"center","baseline":"alphabetic","fontSize":11,"fontWeight":"bold"},"encoding":{"x":{"datum":4},"text":{"field":"label"}}}
]}
]},
{"bounds":"flush","spacing":8,"resolve":{"scale":{"color":"independent","stroke":"independent"}},"hconcat":[
{"width":274,"height":320,"view":{"stroke":"#888","strokeWidth":1.5},"layer":[
{"data":{"name":"cells2"},"mark":{"type":"rect","strokeWidth":0.4},"encoding":{"x":{"field":"x","type":"ordinal","axis":null,"scale":{"domain":[-1.5,-1.4,-1.3,-1.2,-1.1,-1,-0.9,-0.8,-0.7,-0.6,-0.5,-0.4,-0.3,-0.2,-0.1,0,0.1,0.2,0.3,0.4],"paddingInner":0,"paddingOuter":0,"round":false}},"y":{"field":"y","type":"ordinal","axis":null,"scale":{"domain":[0.768,0.736,0.704,0.672,0.64,0.608,0.576,0.544,0.512,0.48,0.448,0.416,0.384,0.352,0.32,0.288,0.256,0.224,0.192,0.16,0.128,0.096,0.064,0.032,0],"paddingInner":0,"paddingOuter":0,"round":false}},"color":{"field":"n","type":"quantitative","legend":null,"scale":{"type":"threshold","domain":[0.126,0.3,0.72,1.73,4.13,9.9,23.7],"range":["#ffffff","#ffff00","#00ffff","#00ff00","#ff00ff","#ff0000","#0000ff","#000000"]}},"stroke":{"field":"n","type":"quantitative","legend":null,"scale":{"type":"threshold","domain":[0.126,0.3,0.72,1.73,4.13,9.9,23.7],"range":["#ffffff","#ffff00","#00ffff","#00ff00","#ff00ff","#ff0000","#0000ff","#000000"]}}}},
{"encoding":{"x":{"field":"x","type":"quantitative","title":null,"scale":{"domain":[-1.5,0.5],"nice":false,"zero":false},"axis":{"zindex":1,"values":[-1.5,-1.4,-1.3,-1.2,-1.1,-1,-0.9,-0.8,-0.7,-0.6,-0.5,-0.4,-0.3,-0.2,-0.1,0,0.1,0.2,0.3,0.4,0.5],"grid":false,"labelFontSize":12.5,"labelColor":"#000","labelPadding":10,"labelFlush":false,"labelOverlap":false,"domainColor":"#555","domainWidth":1.5,"tickColor":"#444","tickSize":{"condition":{"test":"abs(datum.value*2-round(datum.value*2))<0.001","value":-4},"value":-2.5},"labelExpr":"abs(datum.value*2-round(datum.value*2))<0.001 ? replace(format(datum.value,'~g'),'-','–') : ''"}},"y":{"field":"y","type":"quantitative","title":null,"scale":{"domain":[0,0.8],"nice":false,"zero":false},"axis":{"zindex":1,"values":[0,0.05,0.1,0.15,0.2,0.25,0.3,0.35,0.4,0.45,0.5,0.55,0.6,0.65,0.7,0.75,0.8],"grid":false,"labelFontSize":12.5,"labelColor":"#000","labelPadding":17,"labelFlush":false,"labelOverlap":false,"domainColor":"#555","domainWidth":1.5,"tickColor":"#444","tickSize":{"condition":{"test":"abs(datum.value*5-round(datum.value*5))<0.001","value":-5},"value":-3},"labelExpr":"abs(datum.value*5-round(datum.value*5))<0.001 ? (datum.value==0?'0':format(datum.value,'.1f')) : ''"}}},"layer":[
{"data":{"values":[{"x":-1.5,"y":0.3},{"x":-1.305,"y":0.155},{"x":-1.187,"y":0.0925},{"x":-1,"y":0}]},"mark":{"type":"line","color":"#00bb00","strokeWidth":1.8}},
{"data":{"values":[{"x":-1,"y":0},{"x":-0.674,"y":0.0925},{"x":-0.475,"y":0.157},{"x":-0.225,"y":0.255},{"x":-0.1,"y":0.326},{"x":0.065,"y":0.447},{"x":0.19,"y":0.576},{"x":0.285,"y":0.81}]},"mark":{"type":"line","color":"#00bb00","strokeWidth":1.8}},
{"data":{"values":[{"x":-1.478,"y":0.016,"label":"130"},{"x":-0.714,"y":0.016,"label":"33"}]},"mark":{"type":"text","align":"left","baseline":"alphabetic","fontSize":19,"color":"#1414dc"},"encoding":{"text":{"field":"label"}}},
{"data":{"values":[{"x":-1.2,"y":0.0425,"label":"o"},{"x":-0.496,"y":0.0425,"label":"o"}]},"mark":{"type":"text","align":"center","baseline":"alphabetic","fontSize":14,"color":"#1414dc"},"encoding":{"text":{"field":"label"}}},
{"data":{"values":[{"x":-1.876,"y":0.699,"label":"(GeV/c)"}]},"mark":{"type":"text","angle":270,"align":"center","baseline":"alphabetic","fontSize":24},"encoding":{"text":{"field":"label"}}},
{"data":{"values":[{"x":-1.938,"y":0.5475,"label":"p"}]},"mark":{"type":"text","angle":270,"align":"center","baseline":"alphabetic","fontSize":32},"encoding":{"text":{"field":"label"}}},
{"data":{"values":[{"x":-1.85,"y":0.5825,"label":"t"}]},"mark":{"type":"text","angle":270,"align":"center","baseline":"alphabetic","fontSize":18},"encoding":{"text":{"field":"label"}}},
{"data":{"values":[{"x":0.332,"y":-0.1625,"label":"Y"}]},"mark":{"type":"text","align":"center","baseline":"alphabetic","fontSize":25,"fontWeight":"bold"},"encoding":{"text":{"field":"label"}}},
{"data":{"values":[{"x":0.456,"y":-0.125,"label":"0"}]},"mark":{"type":"text","align":"center","baseline":"alphabetic","fontSize":16,"fontWeight":"bold"},"encoding":{"text":{"field":"label"}}}
]}
],"resolve":{"scale":{"x":"independent","y":"independent"}}},
{"width":11,"height":320,"view":{"stroke":"#888","strokeWidth":1.5},"encoding":{"y":{"field":"lo","type":"quantitative","title":null,"scale":{"type":"log","domain":[0.0525,56.7],"nice":false},"axis":{"zindex":1,"orient":"right","values":[0.06,0.07,0.08,0.09,0.1,0.2,0.3,0.4,0.5,0.6,0.7,0.8,0.9,1,2,3,4,5,6,7,8,9,10,20,30,40,50],"grid":false,"domain":false,"labels":false,"tickColor":"#000","tickSize":{"condition":{"test":"datum.value==1||abs(datum.value-0.1)<0.001","value":-11},"value":-4}}},"x":{"datum":0,"type":"quantitative","title":null,"axis":null,"scale":{"domain":[0,1],"nice":false,"zero":false}}},"layer":[
{"data":{"values":[{"lo":0.0525,"hi":0.126,"n":0.08},{"lo":0.126,"hi":0.3,"n":0.2},{"lo":0.3,"hi":0.72,"n":0.46},{"lo":0.72,"hi":1.73,"n":1.1},{"lo":1.73,"hi":4.13,"n":2.7},{"lo":4.13,"hi":9.9,"n":6.4},{"lo":9.9,"hi":23.7,"n":15},{"lo":23.7,"hi":56.7,"n":35}]},"mark":{"type":"rect"},"encoding":{"x2":{"datum":1},"y2":{"field":"hi"},"color":{"field":"n","type":"quantitative","legend":null,"scale":{"type":"threshold","domain":[0.126,0.3,0.72,1.73,4.13,9.9,23.7],"range":["#ffffff","#ffff00","#00ffff","#00ff00","#ff00ff","#ff0000","#0000ff","#000000"]}}}},
{"data":{"values":[{"lo":10,"label":"10"},{"lo":1,"label":"1"}]},"mark":{"type":"text","align":"left","baseline":"middle","fontSize":13.5,"fontWeight":"bold"},"encoding":{"x":{"datum":1.55},"text":{"field":"label"}}},
{"data":{"values":[{"lo":0.1,"label":"10"}]},"mark":{"type":"text","align":"center","baseline":"middle","fontSize":13.5,"fontWeight":"bold"},"encoding":{"x":{"datum":1.73},"text":{"field":"label"}}},
{"data":{"values":[{"lo":0.115,"label":"−1"}]},"mark":{"type":"text","align":"center","baseline":"alphabetic","fontSize":12,"fontWeight":"bold"},"encoding":{"x":{"datum":4.09},"text":{"field":"label"}}}
]}
]}
]}
